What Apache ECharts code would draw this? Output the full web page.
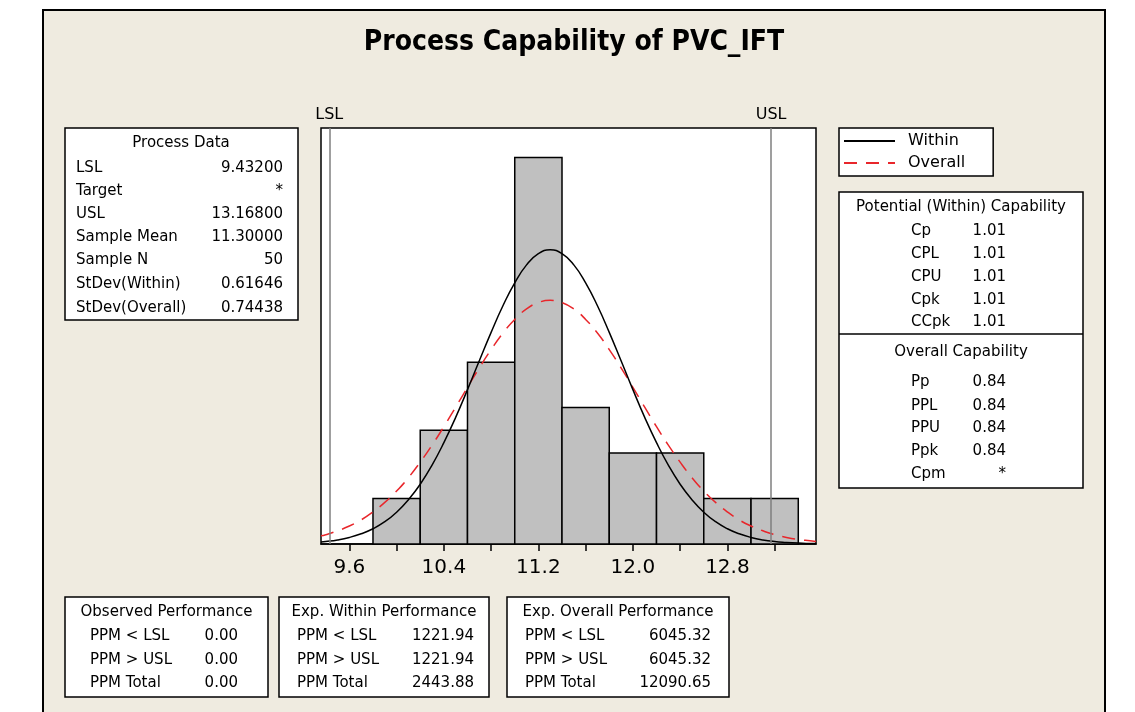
<!DOCTYPE html>
<html>
<head>
<meta charset="utf-8">
<script src="https://cdn.jsdelivr.net/npm/echarts@6/dist/echarts.min.js"></script>
<style>html,body{margin:0;padding:0;background:#fff}#c{width:1135px;height:712px}</style>
</head>
<body>
<div id="c"></div>
<script>
// ---- data ----
const titleText = 'Process Capability of PVC_IFT';
const LSL = 9.432;
const USL = 13.168;
const binStart = [9.8, 10.2, 10.6, 11.0, 11.4, 11.8, 12.2, 12.6, 13.0];
const binEnd   = [10.2, 10.6, 11.0, 11.4, 11.8, 12.2, 12.6, 13.0, 13.4];
const binCounts = [2, 5, 8, 17, 6, 4, 4, 2, 2];
const curveX = [9.36, 9.4, 9.5, 9.6, 9.7, 9.8, 9.9, 10.0, 10.1, 10.2, 10.3, 10.4, 10.5, 10.6, 10.7, 10.8, 10.9, 11.0, 11.1, 11.2, 11.3, 11.4, 11.5, 11.6, 11.7, 11.8, 11.9, 12.0, 12.1, 12.2, 12.3, 12.4, 12.5, 12.6, 12.7, 12.8, 12.9, 13.0, 13.1, 13.2, 13.3, 13.4, 13.5, 13.55];
const withinY = [0.09, 0.11, 0.18, 0.29, 0.45, 0.67, 0.98, 1.40, 1.95, 2.63, 3.47, 4.46, 5.57, 6.79, 8.06, 9.31, 10.48, 11.49, 12.28, 12.77, 12.94, 12.77, 12.28, 11.49, 10.48, 9.31, 8.06, 6.79, 5.57, 4.46, 3.47, 2.63, 1.95, 1.40, 0.98, 0.67, 0.45, 0.29, 0.18, 0.11, 0.07, 0.04, 0.02, 0.02];
const overallY = [0.36, 0.41, 0.58, 0.79, 1.06, 1.41, 1.83, 2.33, 2.92, 3.60, 4.35, 5.16, 6.02, 6.89, 7.75, 8.55, 9.28, 9.88, 10.34, 10.62, 10.72, 10.62, 10.34, 9.88, 9.28, 8.55, 7.75, 6.89, 6.02, 5.16, 4.35, 3.60, 2.92, 2.33, 1.83, 1.41, 1.06, 0.79, 0.58, 0.41, 0.29, 0.20, 0.14, 0.11];
const tickLabels = [9.6, 10.4, 11.2, 12.0, 12.8];
const minorTicks = [9.6, 10.0, 10.4, 10.8, 11.2, 11.6, 12.0, 12.4, 12.8, 13.2];
const legendNames = ['Within', 'Overall'];
const processDataTitle = 'Process Data';
const processDataLabels = ['LSL', 'Target', 'USL', 'Sample Mean', 'Sample N', 'StDev(Within)', 'StDev(Overall)'];
const processDataValues = ['9.43200', '*', '13.16800', '11.30000', '50', '0.61646', '0.74438'];
const potentialTitle = 'Potential (Within) Capability';
const potentialLabels = ['Cp', 'CPL', 'CPU', 'Cpk', 'CCpk'];
const potentialValues = ['1.01', '1.01', '1.01', '1.01', '1.01'];
const overallTitle = 'Overall Capability';
const overallLabels = ['Pp', 'PPL', 'PPU', 'Ppk', 'Cpm'];
const overallValues = ['0.84', '0.84', '0.84', '0.84', '*'];
const perfTitles = ['Observed Performance', 'Exp. Within Performance', 'Exp. Overall Performance'];
const perfLabels = ['PPM < LSL', 'PPM > USL', 'PPM Total'];
const observedValues = ['0.00', '0.00', '0.00'];
const expWithinValues = ['1221.94', '1221.94', '2443.88'];
const expOverallValues = ['6045.32', '6045.32', '12090.65'];

// ---- layout / style ----
const FONT = '"DejaVu Sans", Verdana, sans-serif';
const BOXFONT = '15px ' + FONT;

function txt(x, y, t, align, font) {
  return { type: 'text', x: x, y: y, silent: true, z: 10,
    style: { text: t, font: font || BOXFONT, fill: '#000',
      textAlign: align || 'left', textVerticalAlign: 'middle',
      align: align || 'left', verticalAlign: 'middle' } };
}
function box(x1, y1, x2, y2) {
  return { type: 'rect', z: 5, silent: true, shape: { x: x1, y: y1, width: x2 - x1, height: y2 - y1 },
    style: { fill: '#fff', stroke: '#000', lineWidth: 1.5 } };
}

const g = [];
// outer frame
g.push({ type: 'rect', z: -100, silent: true, shape: { x: 43, y: 10, width: 1062, height: 730 },
  style: { fill: '#EFEBE0', stroke: '#000', lineWidth: 2 } });
// title
g.push(txt(574, 43, titleText, 'center', 'bold 28px "Liberation Sans Narrow", "DejaVu Sans Condensed", "Liberation Sans", sans-serif'));

// Process data box
g.push(box(65, 128, 298, 320));
g.push(txt(181, 143, processDataTitle, 'center'));
const pdY = [168, 191, 214, 237, 260, 284, 308];
processDataLabels.forEach((l, i) => {
  g.push(txt(76, pdY[i], l, 'left'));
  g.push(txt(283, pdY[i], processDataValues[i], 'right'));
});

// Capability box
g.push(box(839, 192, 1083, 488));
g.push({ type: 'line', z: 6, silent: true, shape: { x1: 839, y1: 334, x2: 1083, y2: 334 }, style: { stroke: '#000', lineWidth: 1.5 } });
g.push(txt(961, 207, potentialTitle, 'center'));
const potY = [231, 254, 277, 300, 322];
potentialLabels.forEach((l, i) => {
  g.push(txt(911, potY[i], l, 'left'));
  g.push(txt(1006, potY[i], potentialValues[i], 'right'));
});
g.push(txt(961, 352, overallTitle, 'center'));
const ovY = [382, 406, 428, 451, 474];
overallLabels.forEach((l, i) => {
  g.push(txt(911, ovY[i], l, 'left'));
  g.push(txt(1006, ovY[i], overallValues[i], 'right'));
});

// Performance boxes
const perfBoxes = [[65, 268, 90, 238], [279, 489, 297, 474], [507, 729, 525, 711]];
const perfVals = [observedValues, expWithinValues, expOverallValues];
const perfY = [636, 660, 683];
perfBoxes.forEach((b, k) => {
  g.push(box(b[0], 597, b[1], 697));
  g.push(txt((b[0] + b[1]) / 2, 612, perfTitles[k], 'center'));
  perfLabels.forEach((l, i) => {
    g.push(txt(b[2], perfY[i], l, 'left'));
    g.push(txt(b[3], perfY[i], perfVals[k][i], 'right'));
  });
});

const chart = echarts.init(document.getElementById('c'), null, { renderer: 'canvas' });
chart.setOption({
  backgroundColor: '#fff',
  animation: false,
  graphic: { elements: g },
  legend: {
    data: legendNames,
    orient: 'vertical',
    left: 839, top: 128,
    backgroundColor: '#fff', borderColor: '#000', borderWidth: 1.5, borderRadius: 0,
    padding: [5, 28, 5, 4],
    itemGap: 6, itemWidth: 51, itemHeight: 14,
    itemStyle: { opacity: 0 },
    textStyle: { fontFamily: FONT, fontSize: 16, color: '#000', padding: [0, 0, 0, 8] },
    selectedMode: false
  },
  grid: { left: 321, top: 128, width: 495, height: 416, show: true, backgroundColor: '#fff',
    borderColor: '#000', borderWidth: 1.5, containLabel: false },
  xAxis: {
    type: 'value', min: 9.36, max: 13.55,
    axisLine: { lineStyle: { color: '#000', width: 1.5 } },
    axisTick: { show: true, length: 7, customValues: minorTicks, lineStyle: { color: '#000', width: 1.5 } },
    axisLabel: { customValues: tickLabels, formatter: v => Number(v).toFixed(1), margin: 14,
      fontFamily: FONT, fontSize: 20, color: '#000' },
    splitLine: { show: false }
  },
  yAxis: { type: 'value', min: 0, max: 18.3, show: false, splitLine: { show: false } },
  series: [
    {
      type: 'custom', name: 'Histogram', z: 2,
      data: binStart.map((s, i) => [s, binEnd[i], binCounts[i]]),
      encode: { x: [0, 1], y: 2 },
      renderItem: function (params, api) {
        const p1 = api.coord([api.value(0), api.value(2)]);
        const p2 = api.coord([api.value(1), 0]);
        return { type: 'rect', shape: { x: p1[0], y: p1[1], width: p2[0] - p1[0], height: p2[1] - p1[1] },
          style: { fill: '#C0C0C0', stroke: '#000', lineWidth: 1.5 } };
      },
      markLine: {
        silent: true, symbol: 'none', animation: false,
        lineStyle: { color: '#7f7f7f', width: 1.5, type: 'solid' },
        label: { show: true, position: 'end', formatter: '{b}', distance: 5,
          fontFamily: FONT, fontSize: 16, color: '#000' },
        data: [{ name: 'LSL', xAxis: LSL }, { name: 'USL', xAxis: USL }]
      }
    },
    {
      type: 'line', name: 'Within', z: 4, smooth: true, symbol: 'none',
      data: curveX.map((x, i) => [x, withinY[i]]),
      lineStyle: { color: '#000', width: 1.5 }, itemStyle: { color: '#000' }
    },
    {
      type: 'line', name: 'Overall', z: 3, smooth: true, symbol: 'none',
      data: curveX.map((x, i) => [x, overallY[i]]),
      lineStyle: { color: '#E8262B', width: 1.5, type: [13, 9] }, itemStyle: { color: '#E8262B' }
    }
  ]
});
</script>
</body>
</html>
